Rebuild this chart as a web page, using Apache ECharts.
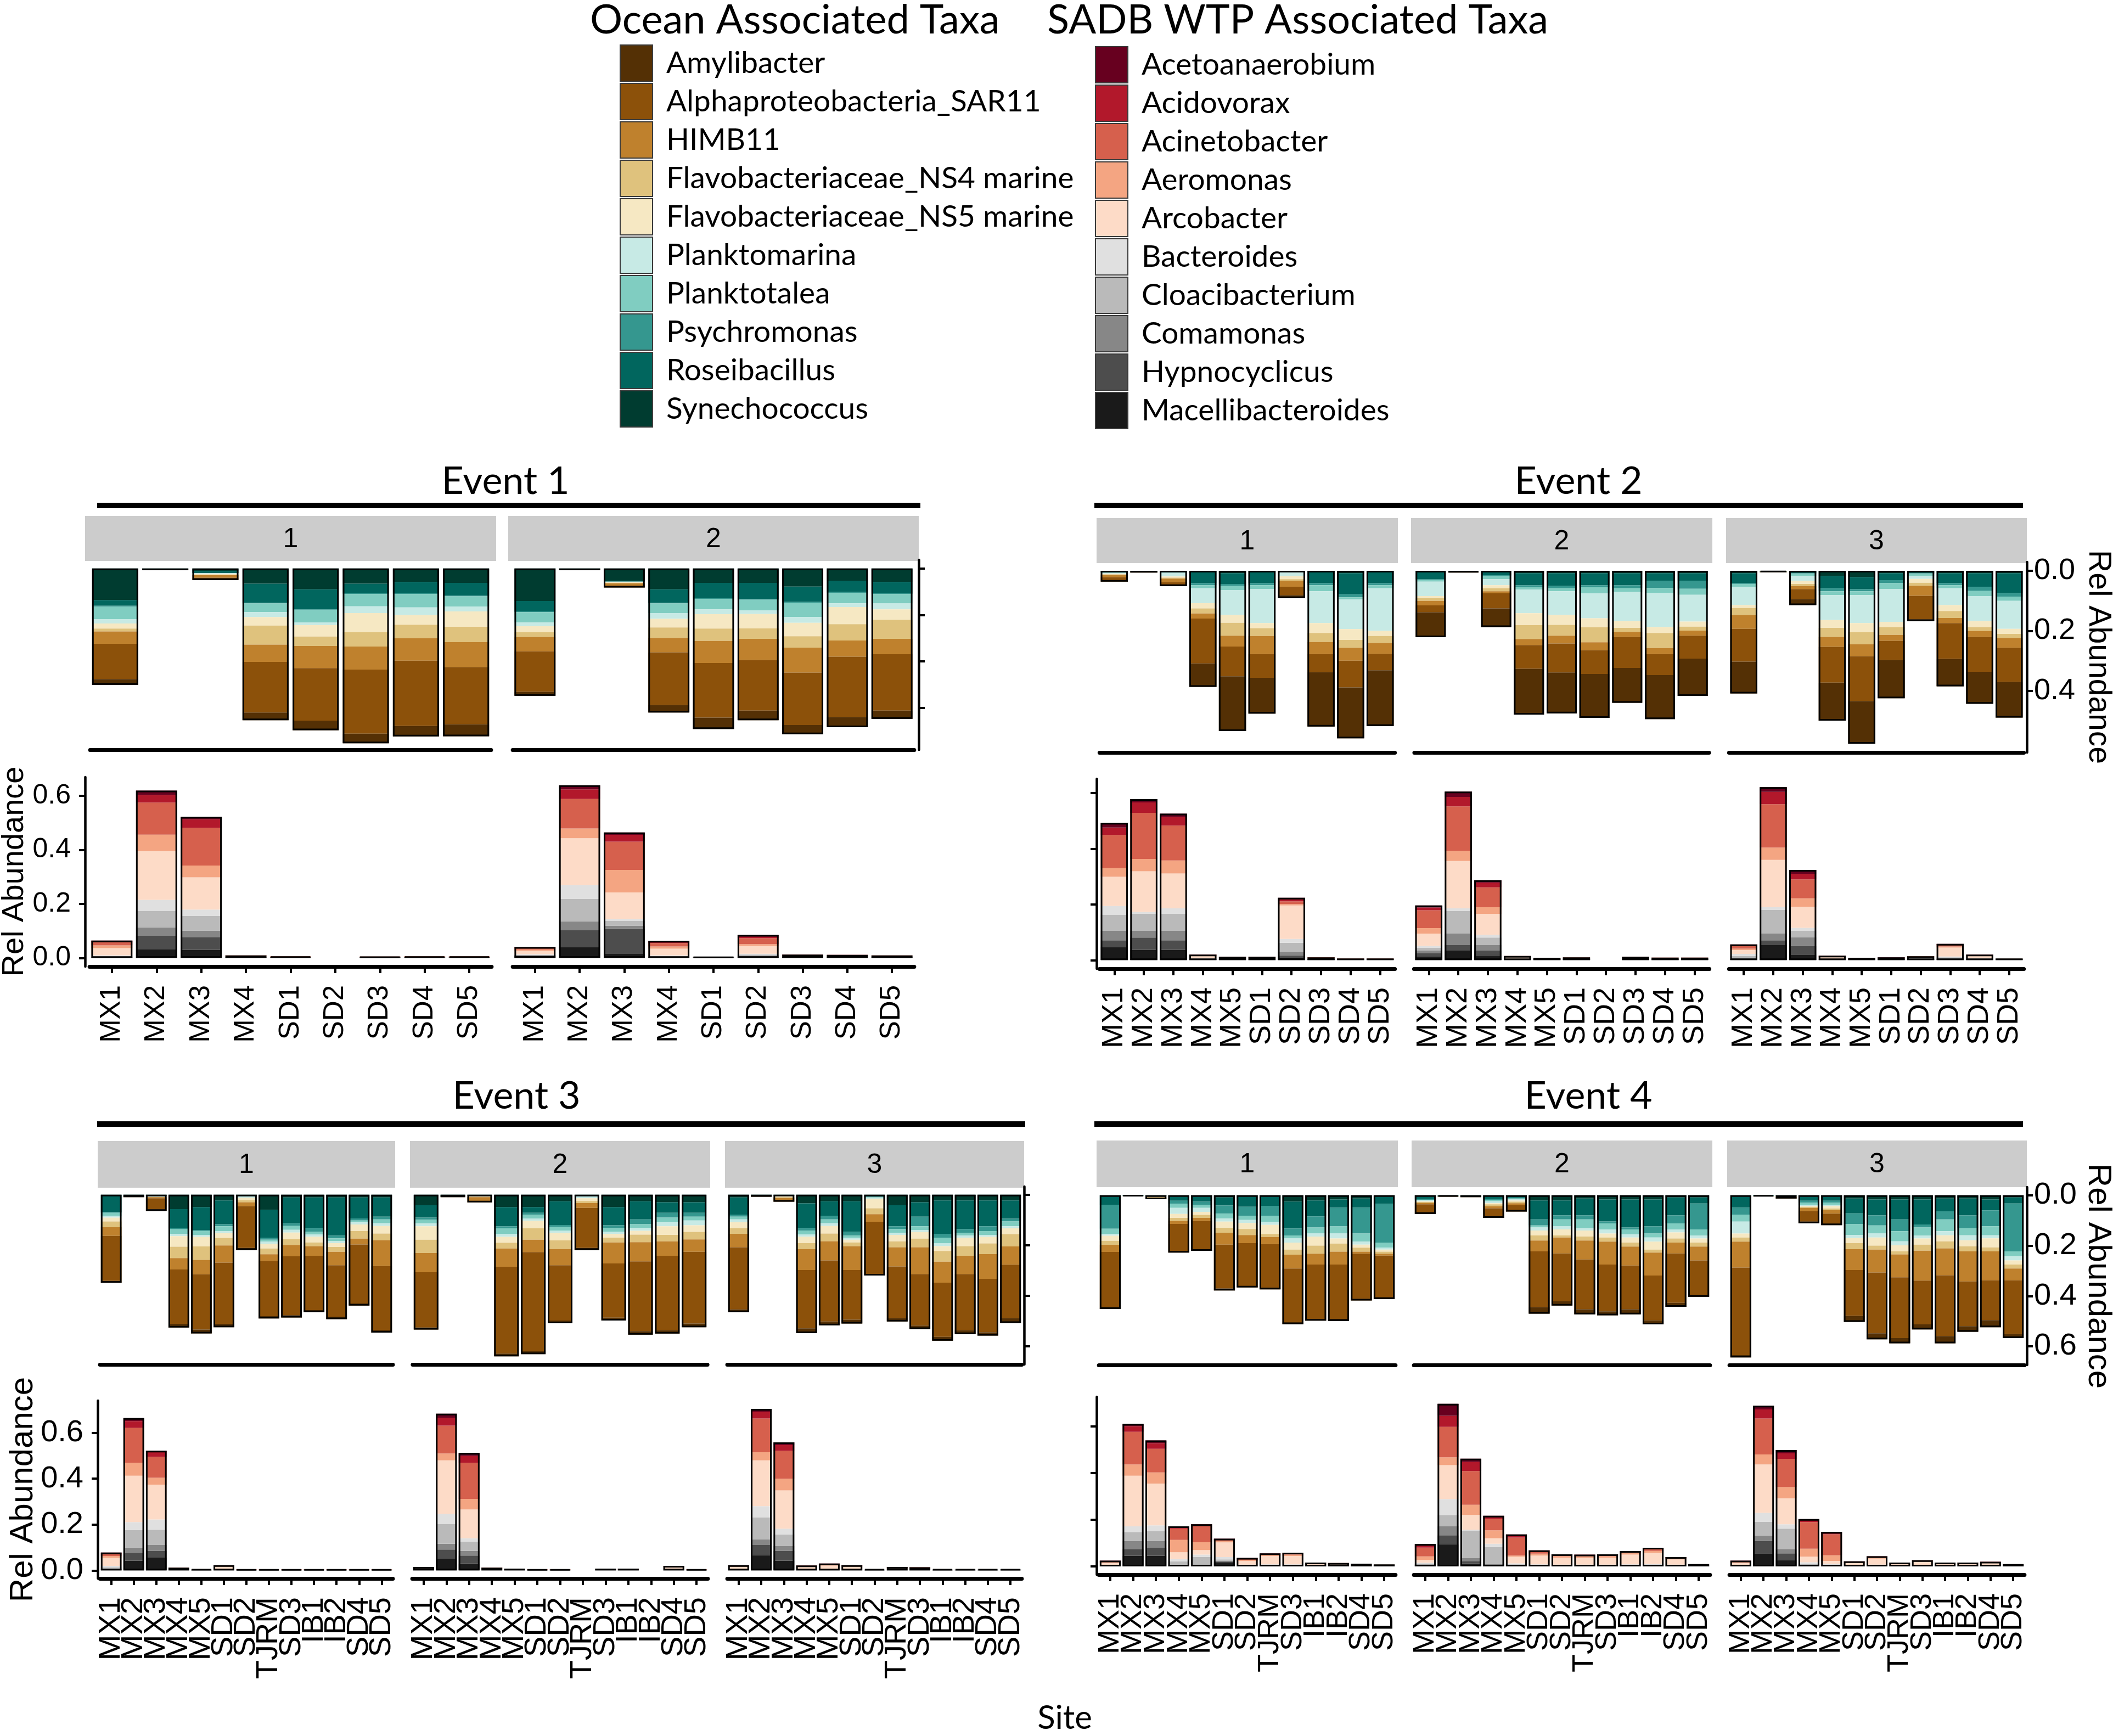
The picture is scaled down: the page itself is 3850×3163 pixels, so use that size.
<!DOCTYPE html>
<html><head><meta charset="utf-8">
<script src="https://cdn.jsdelivr.net/npm/echarts@6/dist/echarts.min.js"></script>
<style>html,body{margin:0;padding:0;background:#fff}#c{width:3850px;height:3163px}</style>
</head><body><div id="c"></div>
<script>
// ---------- taxa (legend order) ----------
const OCEAN_TAXA = ['Amylibacter','Alphaproteobacteria_SAR11','HIMB11','Flavobacteriaceae_NS4 marine','Flavobacteriaceae_NS5 marine','Planktomarina','Planktotalea','Psychromonas','Roseibacillus','Synechococcus'];
const OCEAN_COLORS = ['#543005','#8C510A','#BF812D','#DFC27D','#F6E8C3','#C7EAE5','#80CDC1','#35978F','#01665E','#003C30'];
const WTP_TAXA = ['Acetoanaerobium','Acidovorax','Acinetobacter','Aeromonas','Arcobacter','Bacteroides','Cloacibacterium','Comamonas','Hypnocyclicus','Macellibacteroides'];
const WTP_COLORS = ['#67001F','#B2182B','#D6604D','#F4A582','#FDDBC7','#E0E0E0','#BABABA','#878787','#4D4D4D','#1A1A1A'];

// ---------- sites ----------
const SITES_E1 = ['MX1','MX2','MX3','MX4','SD1','SD2','SD3','SD4','SD5'];
const SITES_E2 = ['MX1','MX2','MX3','MX4','MX5','SD1','SD2','SD3','SD4','SD5'];
const SITES_E34 = ['MX1','MX2','MX3','MX4','MX5','SD1','SD2','TJRM','SD3','IB1','IB2','SD4','SD5'];
const TICKS_3 = [0, 0.2, 0.4];
const TICKS_4 = [0, 0.2, 0.4, 0.6];

// ---------- data ----------
// Ocean rows per site, stack order from 0: Synechococcus, Roseibacillus, Psychromonas, Planktotalea,
// Planktomarina, NS5, NS4, HIMB11, SAR11, Amylibacter. null = site not sampled.
// WTP rows per site, stack order from 0: Macellibacteroides, Hypnocyclicus, Comamonas, Cloacibacterium,
// Bacteroides, Arcobacter, Aeromonas, Acinetobacter, Acidovorax, Acetoanaerobium.
const E1_P1_OCEAN = [
 [0.136,0.025,0.004,0.053,0.019,0.022,0.012,0.053,0.152,0.025],
 [0.004,0,0,0,0,0,0,0,0.002,0.002],
 [0.012,0.008,0,0,0.004,0.004,0,0.012,0.008,0.002],
 [0.066,0.082,0.003,0.037,0.021,0.037,0.082,0.074,0.218,0.033],
 [0.090,0.086,0.003,0.053,0.012,0.049,0.041,0.095,0.226,0.041],
 null,
 [0.066,0.041,0.003,0.053,0.029,0.082,0.062,0.099,0.276,0.041],
 [0.058,0.049,0.003,0.058,0.033,0.041,0.058,0.097,0.281,0.045],
 [0.062,0.055,0.003,0.044,0.021,0.066,0.066,0.107,0.247,0.051]];
const E1_P2_OCEAN = [
 [0.140,0.045,0.003,0.045,0.016,0.025,0.021,0.062,0.174,0.017],
 [0.004,0,0,0,0,0,0,0,0.002,0.002],
 [0.053,0.004,0,0,0.002,0.003,0.002,0.010,0.006,0.002],
 [0.090,0.058,0.003,0.041,0.025,0.037,0.045,0.062,0.226,0.033],
 [0.062,0.066,0.003,0.045,0.021,0.062,0.053,0.095,0.235,0.049],
 [0.062,0.070,0.003,0.045,0.016,0.062,0.045,0.091,0.218,0.041],
 [0.078,0.066,0.003,0.062,0.025,0.058,0.049,0.107,0.226,0.039],
 [0.053,0.049,0.003,0.045,0.016,0.074,0.070,0.070,0.259,0.044],
 [0.058,0.049,0.003,0.041,0.025,0.045,0.082,0.066,0.243,0.035]];
const E1_P1_WTP = [
 [0.001,0.001,0.001,0.002,0.004,0.027,0.010,0.012,0.004,0.002],
 [0.031,0.051,0.031,0.061,0.041,0.180,0.061,0.119,0.028,0.016],
 [0.030,0.047,0.024,0.054,0.024,0.119,0.044,0.139,0.032,0.009],
 [0.001,0.001,0,0.001,0,0.004,0,0.002,0,0],
 [0.002,0.002,0,0,0,0.001,0,0.001,0,0],
 null,
 [0.002,0.002,0,0,0,0,0,0.001,0,0],
 [0.002,0.002,0,0,0,0.001,0,0.001,0,0],
 [0.002,0.002,0,0,0,0.001,0,0.001,0,0]];
const E1_P2_WTP = [
 [0.007,0.002,0.001,0.001,0.002,0.013,0.005,0.006,0.002,0.001],
 [0.040,0.062,0.033,0.083,0.051,0.174,0.036,0.109,0.036,0.015],
 [0.0145,0.094,0.011,0.018,0.007,0.098,0.083,0.105,0.025,0.009],
 [0.002,0.001,0.001,0.002,0.003,0.025,0.008,0.013,0.005,0.003],
 [0.002,0.002,0,0,0,0,0,0,0,0],
 [0.003,0.003,0.002,0.004,0.003,0.029,0.007,0.022,0.008,0.004],
 [0.002,0.002,0.001,0.001,0,0.003,0,0.002,0.001,0],
 [0.002,0.002,0.001,0.001,0,0.003,0,0.001,0.001,0],
 [0.002,0.002,0.001,0.001,0,0.002,0,0.001,0,0]];

const E2_P1_OCEAN = [
 [0.002,0.003,0.001,0.002,0.002,0.002,0.002,0.007,0.012,0.003],
 [0.002,0.001,0,0,0,0,0,0.001,0.001,0.001],
 [0.001,0.002,0.001,0.003,0.012,0.004,0.003,0.012,0.010,0.003],
 [0.005,0.036,0.007,0.010,0.050,0.017,0.017,0.017,0.149,0.078],
 [0.008,0.036,0.007,0.013,0.083,0.026,0.043,0.036,0.099,0.182],
 [0.005,0.036,0.007,0.013,0.113,0.017,0.026,0.060,0.079,0.119],
 [0.001,0.002,0.001,0.002,0.012,0.010,0.005,0.020,0.028,0.010],
 [0.005,0.036,0.007,0.020,0.106,0.033,0.030,0.040,0.060,0.181],
 [0.008,0.070,0.010,0.007,0.099,0.036,0.026,0.043,0.089,0.169],
 [0.005,0.036,0.007,0.010,0.142,0.017,0.023,0.036,0.055,0.185]];
const E2_P2_OCEAN = [
 [0.005,0.023,0.003,0.005,0.048,0.007,0.009,0.015,0.023,0.083],
 [0.002,0.001,0,0,0,0,0,0.001,0.001,0.001],
 [0.005,0.010,0.003,0.010,0.020,0.010,0.010,0.007,0.050,0.062],
 [0.008,0.040,0.007,0.007,0.079,0.040,0.046,0.020,0.079,0.152],
 [0.008,0.043,0.007,0.010,0.079,0.033,0.036,0.026,0.096,0.136],
 [0.008,0.040,0.007,0.020,0.083,0.030,0.050,0.026,0.079,0.146],
 null,
 [0.008,0.040,0.010,0.013,0.096,0.023,0.013,0.017,0.103,0.116],
 [0.008,0.026,0.023,0.017,0.113,0.020,0.050,0.020,0.070,0.146],
 [0.008,0.026,0.026,0.020,0.089,0.017,0.013,0.017,0.076,0.124]];
const E2_P3_OCEAN = [
 [0.008,0.033,0.003,0.010,0.060,0.010,0.023,0.046,0.109,0.106],
 [0.002,0.001,0,0,0,0,0,0,0.001,0.001],
 [0.003,0.005,0.002,0.007,0.017,0.010,0.007,0.010,0.033,0.020],
 [0.018,0.040,0.010,0.013,0.083,0.026,0.030,0.033,0.119,0.126],
 [0.021,0.040,0.007,0.013,0.093,0.030,0.040,0.040,0.149,0.142],
 [0.008,0.023,0.010,0.020,0.109,0.017,0.026,0.020,0.063,0.128],
 [0.003,0.005,0.002,0.007,0.010,0.013,0.010,0.033,0.079,0.005],
 [0.008,0.033,0.007,0.010,0.056,0.020,0.023,0.017,0.119,0.091],
 [0.008,0.046,0.013,0.017,0.083,0.020,0.013,0.020,0.116,0.106],
 [0.008,0.066,0.013,0.013,0.093,0.017,0.013,0.033,0.113,0.119]];
const E2_P1_WTP = [
 [0.047,0.024,0.034,0.058,0.031,0.105,0.031,0.119,0.027,0.017],
 [0.037,0.044,0.024,0.061,0.007,0.146,0.044,0.166,0.037,0.012],
 [0.037,0.034,0.034,0.061,0.020,0.125,0.047,0.125,0.031,0.012],
 [0.001,0.001,0.001,0.002,0.002,0.008,0.002,0.002,0.001,0],
 [0.001,0,0,0.001,0.001,0.005,0.002,0.002,0,0],
 [0.001,0,0,0.001,0.001,0.005,0.002,0.002,0,0],
 [0.010,0.007,0.014,0.031,0.014,0.120,0.005,0.010,0.010,0.003],
 [0.002,0.002,0,0.001,0.001,0.002,0,0.002,0,0],
 [0.002,0.002,0,0,0,0.001,0,0.001,0,0],
 [0.002,0.002,0,0,0,0.001,0,0.001,0,0]];
const E2_P2_WTP = [
 [0.014,0.010,0.010,0.010,0.007,0.044,0.020,0.064,0.010,0.007],
 [0.034,0.020,0.041,0.081,0.010,0.170,0.037,0.159,0.034,0.019],
 [0.017,0.017,0.020,0.027,0.010,0.075,0.024,0.071,0.017,0.009],
 [0.001,0,0,0.002,0.002,0.006,0.002,0.002,0,0],
 [0.002,0.001,0,0,0,0.002,0,0.002,0,0.001],
 [0.003,0.003,0.001,0,0,0.002,0,0.001,0,0],
 null,
 [0.001,0.001,0.001,0.002,0.001,0.004,0,0.002,0,0],
 [0.001,0.001,0.001,0.001,0.001,0.003,0,0.001,0,0],
 [0.003,0.003,0.001,0,0,0.001,0,0.001,0,0]];
const E2_P3_WTP = [
 [0.003,0.002,0.003,0.007,0.007,0.014,0.005,0.010,0.004,0.001],
 [0.054,0.017,0.024,0.085,0.010,0.170,0.044,0.156,0.044,0.017],
 [0.020,0.031,0.031,0.024,0.010,0.075,0.031,0.068,0.020,0.014],
 [0.001,0,0,0.001,0.002,0.007,0.002,0.002,0.001,0],
 [0.002,0.001,0,0,0,0.002,0,0.002,0.001,0],
 [0.002,0.001,0,0,0,0.002,0,0.003,0.001,0.001],
 [0.002,0.001,0.001,0.002,0.001,0.005,0.001,0.001,0,0],
 [0.002,0.002,0.002,0.004,0.003,0.032,0.004,0.005,0.003,0.001],
 [0.001,0.001,0.001,0.002,0.002,0.009,0.002,0.001,0.001,0],
 [0.002,0.002,0.001,0,0,0.001,0,0,0,0]];

const E3_P1_OCEAN = [
 [0.004,0.064,0.004,0.011,0.008,0.015,0.023,0.034,0.178,0.008],
 [0.003,0.003,0,0,0,0,0,0,0.003,0.001],
 [0.002,0.003,0.001,0.001,0.001,0.001,0.001,0.004,0.044,0.006],
 [0.057,0.076,0.004,0.019,0.008,0.042,0.045,0.045,0.215,0.015],
 [0.049,0.091,0.004,0.015,0.008,0.038,0.053,0.057,0.219,0.015],
 [0.023,0.094,0.008,0.019,0.008,0.019,0.030,0.068,0.242,0.014],
 [0.002,0.003,0.001,0.002,0.004,0.010,0.008,0.015,0.166,0.008],
 [0.060,0.110,0.008,0.008,0.008,0.019,0.023,0.026,0.219,0.009],
 [0.011,0.102,0.011,0.015,0.011,0.026,0.023,0.045,0.233,0.009],
 [0.011,0.121,0.015,0.011,0.008,0.023,0.015,0.038,0.215,0.008],
 [0.011,0.151,0.011,0.011,0.008,0.015,0.019,0.053,0.204,0.010],
 [0.011,0.083,0.008,0.008,0.008,0.026,0.030,0.023,0.234,0.008],
 [0.011,0.076,0.011,0.015,0.011,0.030,0.026,0.102,0.253,0.011]];
const E3_P2_OCEAN = [
 [0.042,0.049,0.008,0.015,0.011,0.053,0.053,0.076,0.219,0.008],
 [0.003,0.003,0,0,0,0,0,0,0.003,0.001],
 [0.002,0.002,0,0,0.001,0.003,0.002,0.015,0.0035,0.002],
 [0.049,0.076,0.008,0.023,0.011,0.023,0.023,0.072,0.344,0.011],
 [0.049,0.023,0.008,0.015,0.008,0.030,0.045,0.049,0.393,0.011],
 [0.026,0.094,0.008,0.015,0.008,0.030,0.034,0.064,0.219,0.011],
 [0.002,0.003,0.001,0.002,0.006,0.011,0.008,0.019,0.159,0.008],
 null,
 [0.049,0.072,0.011,0.015,0.008,0.015,0.019,0.083,0.215,0.011],
 [0.026,0.072,0.019,0.015,0.011,0.015,0.030,0.076,0.276,0.014],
 null,
 [0.030,0.042,0.019,0.019,0.015,0.034,0.026,0.057,0.295,0.013],
 [0.030,0.042,0.015,0.015,0.019,0.026,0.030,0.049,0.284,0.015]];
const E3_P3_OCEAN = [
 [0.011,0.068,0.008,0.011,0.011,0.023,0.023,0.053,0.246,0.011],
 [0.003,0.002,0,0,0,0,0,0,0.002,0.001],
 [0.002,0.002,0,0,0.002,0.004,0.003,0.010,0.003,0.002],
 [0.034,0.098,0.011,0.015,0.008,0.026,0.023,0.083,0.231,0.019],
 [0.026,0.057,0.015,0.015,0.011,0.030,0.030,0.076,0.242,0.015],
 [0.026,0.121,0.015,0.008,0.008,0.011,0.015,0.094,0.197,0.015],
 [0.004,0.004,0.002,0.002,0.004,0.038,0.023,0.030,0.207,0.006],
 [0.042,0.083,0.011,0.015,0.008,0.026,0.023,0.076,0.204,0.014],
 [0.030,0.057,0.038,0.015,0.008,0.026,0.034,0.106,0.204,0.014],
 [0.023,0.132,0.015,0.023,0.011,0.019,0.042,0.083,0.215,0.015],
 [0.023,0.113,0.015,0.011,0.008,0.034,0.038,0.072,0.223,0.015],
 [0.023,0.102,0.019,0.015,0.008,0.026,0.042,0.098,0.212,0.013],
 [0.023,0.072,0.011,0.019,0.008,0.023,0.049,0.072,0.212,0.019]];
const E3_P1_WTP = [
 [0.003,0.002,0.002,0.006,0.007,0.035,0.008,0.007,0.005,0.003],
 [0.043,0.034,0.023,0.076,0.035,0.202,0.056,0.152,0.030,0.013],
 [0.056,0.030,0.025,0.066,0.045,0.152,0.030,0.091,0.020,0.007],
 [0.001,0,0,0.001,0.002,0.005,0.001,0.002,0,0],
 [0.001,0.001,0.001,0.002,0,0.001,0,0,0,0],
 [0.001,0,0,0.001,0.002,0.012,0.003,0.003,0.001,0],
 [0.002,0.002,0,0,0,0,0,0.001,0,0],
 [0.002,0.001,0,0,0,0.001,0,0.001,0,0],
 [0.002,0.002,0,0,0,0,0,0.001,0,0],
 [0.002,0.002,0,0,0,0,0,0.001,0,0],
 [0.002,0.002,0,0,0,0,0,0.001,0,0],
 [0.002,0.002,0,0,0,0,0,0.001,0,0],
 [0.002,0.002,0,0,0,0,0,0.001,0,0]];
const E3_P2_WTP = [
 [0.002,0.001,0.001,0.001,0.001,0.004,0.002,0.002,0.001,0],
 [0.051,0.040,0.025,0.086,0.045,0.233,0.030,0.121,0.035,0.017],
 [0.030,0.035,0.020,0.040,0.015,0.126,0.046,0.157,0.030,0.013],
 [0.001,0,0,0.001,0.002,0.005,0.001,0.002,0,0],
 [0.002,0.001,0,0,0,0.002,0,0.002,0.001,0],
 [0.002,0.002,0,0,0,0,0,0.001,0,0],
 [0.002,0.002,0,0,0,0,0,0.001,0,0],
 null,
 [0.001,0.001,0.002,0.002,0.001,0.001,0,0,0,0],
 [0.002,0.001,0,0,0,0,0,0.002,0.002,0.001],
 null,
 [0.001,0.001,0,0.001,0.002,0.010,0.002,0.002,0.001,0],
 [0.002,0.002,0,0,0,0,0,0.001,0,0]];
const E3_P3_WTP = [
 [0.002,0.001,0.001,0.001,0.002,0.008,0.002,0.003,0.002,0.001],
 [0.066,0.045,0.025,0.096,0.048,0.200,0.035,0.147,0.030,0.012],
 [0.043,0.043,0.020,0.051,0.025,0.167,0.051,0.121,0.025,0.012],
 [0.001,0,0,0.001,0.002,0.011,0.003,0.003,0.001,0],
 [0.001,0.001,0,0.001,0.002,0.016,0.004,0.003,0.001,0.001],
 [0.001,0,0,0.001,0.002,0.012,0.003,0.003,0.001,0],
 [0.001,0.001,0.001,0.002,0.001,0.001,0,0,0,0],
 [0.001,0,0,0.001,0.001,0.008,0.002,0.002,0,0],
 [0.001,0,0,0.001,0.001,0.007,0.002,0.002,0,0],
 [0.001,0.001,0.001,0.002,0.001,0.001,0,0,0,0],
 [0.001,0.001,0.001,0.002,0.001,0.001,0,0,0,0],
 [0.001,0.001,0.001,0.002,0.001,0.001,0,0,0,0],
 [0.002,0.002,0.001,0.001,0,0,0,0,0,0]];

const E4_P1_OCEAN = [
 [0.006,0.032,0.095,0.020,0.008,0.020,0.016,0.028,0.221,0.006],
 [0.002,0.001,0,0,0,0,0,0,0.001,0],
 [0.001,0.002,0.001,0,0.001,0.002,0.002,0.003,0.003,0.001],
 [0.006,0.016,0.012,0.016,0.024,0.016,0.012,0.012,0.109,0.005],
 [0.006,0.020,0.012,0.012,0.016,0.012,0.012,0.012,0.115,0.004],
 [0.009,0.032,0.032,0.020,0.012,0.024,0.020,0.047,0.174,0.008],
 [0.006,0.040,0.036,0.016,0.012,0.024,0.024,0.032,0.170,0.006],
 [0.006,0.036,0.040,0.024,0.012,0.036,0.012,0.028,0.174,0.006],
 [0.025,0.107,0.028,0.012,0.016,0.028,0.020,0.055,0.213,0.008],
 [0.021,0.063,0.044,0.024,0.012,0.036,0.032,0.043,0.217,0.006],
 [0.017,0.032,0.075,0.028,0.020,0.020,0.032,0.051,0.216,0.008],
 [0.013,0.036,0.103,0.032,0.012,0.012,0.016,0.008,0.180,0.006],
 [0.006,0.028,0.154,0.020,0.008,0.008,0.008,0.008,0.166,0.006]];
const E4_P2_OCEAN = [
 [0.006,0.008,0.004,0.002,0.004,0.003,0.003,0.006,0.033,0.005],
 [0.002,0.002,0,0,0,0,0,0,0.001,0.001],
 [0.002,0.002,0,0,0,0,0,0.001,0.002,0.001],
 [0.006,0.008,0.004,0.006,0.008,0.004,0.008,0.008,0.033,0.005],
 [0.004,0.006,0.003,0.004,0.004,0.005,0.006,0.008,0.022,0.003],
 [0.021,0.075,0.024,0.008,0.012,0.020,0.020,0.043,0.221,0.026],
 [0.021,0.059,0.016,0.028,0.012,0.024,0.008,0.063,0.190,0.017],
 [0.013,0.067,0.016,0.036,0.008,0.024,0.016,0.075,0.198,0.020],
 [0.017,0.087,0.008,0.024,0.016,0.016,0.016,0.091,0.186,0.016],
 [0.017,0.111,0.008,0.020,0.012,0.020,0.016,0.075,0.174,0.020],
 [0.017,0.107,0.028,0.016,0.016,0.032,0.012,0.091,0.178,0.016],
 [0.009,0.071,0.032,0.024,0.012,0.024,0.016,0.043,0.196,0.016],
 [0.009,0.024,0.103,0.024,0.012,0.016,0.016,0.055,0.138,0.006]];
const E4_P3_OCEAN = [
 [0.006,0.043,0.028,0.028,0.047,0.016,0.016,0.103,0.348,0.009],
 [0.002,0.001,0,0,0,0,0,0,0.001,0.001],
 [0.001,0.001,0,0,0.001,0.002,0.001,0.003,0.003,0.001],
 [0.006,0.016,0.008,0.008,0.004,0.004,0.004,0.012,0.043,0.006],
 [0.006,0.016,0.008,0.008,0.005,0.010,0.006,0.014,0.041,0.005],
 [0.013,0.059,0.043,0.043,0.012,0.020,0.024,0.083,0.182,0.024],
 [0.017,0.063,0.040,0.032,0.016,0.032,0.016,0.091,0.241,0.024],
 [0.017,0.079,0.047,0.040,0.016,0.024,0.012,0.091,0.241,0.021],
 [0.017,0.099,0.012,0.032,0.012,0.024,0.024,0.119,0.174,0.020],
 [0.013,0.051,0.032,0.047,0.016,0.024,0.028,0.107,0.241,0.029],
 [0.013,0.067,0.051,0.028,0.020,0.024,0.020,0.119,0.178,0.022],
 [0.017,0.043,0.063,0.036,0.012,0.036,0.016,0.115,0.158,0.028],
 [0.009,0.024,0.190,0.020,0.016,0.016,0.016,0.047,0.213,0.016]];
const E4_P1_WTP = [
 [0.001,0.001,0.001,0.001,0.002,0.009,0.003,0.004,0.002,0.001],
 [0.046,0.029,0.034,0.039,0.024,0.217,0.048,0.140,0.024,0.010],
 [0.046,0.034,0.029,0.043,0.024,0.179,0.048,0.101,0.024,0.012],
 [0.003,0.002,0.003,0.014,0.010,0.029,0.053,0.048,0.007,0.003],
 [0.002,0.002,0.003,0.034,0.010,0.019,0.034,0.068,0.006,0.003],
 [0.017,0.004,0.004,0.005,0.010,0.063,0.006,0.006,0.003,0.001],
 [0.001,0.001,0.001,0.002,0.003,0.015,0.005,0.006,0.002,0.001],
 [0.001,0.001,0.001,0.002,0.004,0.036,0.006,0.003,0.001,0.001],
 [0.001,0.001,0.001,0.002,0.004,0.036,0.006,0.005,0.002,0.001],
 [0.001,0.001,0.001,0.002,0.002,0.006,0.002,0.001,0.001,0],
 [0.001,0.001,0.001,0.002,0.002,0.005,0.002,0.001,0,0],
 [0.001,0.001,0.001,0.002,0.002,0.003,0.001,0.001,0,0],
 [0.002,0.002,0.001,0.002,0.001,0.001,0,0,0,0]];
const E4_P2_WTP = [
 [0.005,0.002,0.002,0.003,0.004,0.012,0.015,0.038,0.012,0.003],
 [0.095,0.039,0.039,0.048,0.068,0.145,0.034,0.130,0.048,0.051],
 [0.013,0.010,0.014,0.116,0.005,0.063,0.043,0.145,0.039,0.014],
 [0.003,0.003,0.005,0.072,0.014,0.024,0.034,0.050,0.008,0.004],
 [0.002,0.002,0.002,0.003,0.004,0.029,0.005,0.077,0.009,0.004],
 [0.001,0.001,0.001,0.002,0.004,0.038,0.008,0.010,0.003,0.001],
 [0.001,0.001,0.001,0.002,0.003,0.030,0.006,0.005,0.002,0.001],
 [0.001,0.001,0.001,0.002,0.003,0.029,0.006,0.005,0.002,0.001],
 [0.001,0.001,0.001,0.002,0.003,0.030,0.006,0.005,0.002,0.001],
 [0.001,0.001,0.001,0.002,0.004,0.042,0.007,0.005,0.002,0.001],
 [0.001,0.001,0.001,0.003,0.005,0.048,0.008,0.008,0.004,0.001],
 [0.001,0.001,0.001,0.002,0.003,0.022,0.004,0.004,0.001,0.001],
 [0.002,0.002,0.002,0.002,0.001,0.001,0,0,0,0]];
const E4_P3_WTP = [
 [0.001,0.001,0.001,0.001,0.002,0.009,0.003,0.004,0.002,0.001],
 [0.056,0.053,0.024,0.058,0.039,0.207,0.043,0.154,0.039,0.016],
 [0.027,0.029,0.019,0.087,0.019,0.111,0.048,0.121,0.024,0.014],
 [0.002,0.002,0.002,0.004,0.008,0.024,0.034,0.114,0.009,0.004],
 [0.002,0.001,0.002,0.003,0.004,0.012,0.024,0.090,0.007,0.003],
 [0.001,0.001,0.001,0.001,0.002,0.009,0.002,0.003,0.001,0.001],
 [0.001,0.001,0.001,0.002,0.003,0.026,0.004,0.004,0.001,0.001],
 [0.001,0.001,0.001,0.001,0.002,0.007,0.002,0.001,0.001,0],
 [0.001,0.001,0.001,0.002,0.002,0.013,0.003,0.003,0.001,0],
 [0.001,0.001,0.001,0.001,0.002,0.007,0.002,0.001,0.001,0],
 [0.001,0.001,0.001,0.001,0.002,0.007,0.002,0.001,0.001,0],
 [0.001,0.001,0.001,0.002,0.002,0.009,0.002,0.001,0.001,0],
 [0.002,0.002,0.002,0.002,0.001,0.001,0,0,0,0]];

// ---------- layout (pixels) ----------
const LAYOUT = [
 {title:'Event 1', tx:921, ty:877, line:[177,1677,921], strip:[940,82],
  subs:[[155,904],[926,1674]],
  top:{y0:1020,y1:1366,lo:-0.037,hi:0.78,ticks:TICKS_4,labels:false},
  bot:{y0:1416,y1:1761,lo:-0.032,hi:0.669,ticks:TICKS_4,labels:true},
  rel:{x:27,y:1588,fs:56,rot:1}, xfs:51, yfs:50,
  sites:SITES_E1, ocean:[E1_P1_OCEAN,E1_P2_OCEAN], wtp:[E1_P1_WTP,E1_P2_WTP]},
 {title:'Event 2', tx:2876, ty:877, line:[1994,3686,921], strip:[944,82],
  subs:[[1998,2547],[2571,3120],[3145,3693]],
  top:{y0:1024,y1:1371,lo:-0.029,hi:0.604,ticks:TICKS_3,labels:true},
  bot:{y0:1419,y1:1765,lo:-0.031,hi:0.651,ticks:TICKS_4,labels:false},
  rel:{x:3823,y:1197,fs:57,rot:-1}, xfs:54, yfs:54,
  sites:SITES_E2, ocean:[E2_P1_OCEAN,E2_P2_OCEAN,E2_P3_OCEAN], wtp:[E2_P1_WTP,E2_P2_WTP,E2_P3_WTP]},
 {title:'Event 3', tx:941, ty:1997, line:[177,1868,2048], strip:[2079,85],
  subs:[[178,720],[747,1294],[1321,1866]],
  top:{y0:2162,y1:2486,lo:-0.032,hi:0.672,ticks:TICKS_4,labels:false},
  bot:{y0:2552,y1:2876,lo:-0.035,hi:0.74,ticks:TICKS_4,labels:true},
  rel:{x:42,y:2714,fs:60,rot:1}, xfs:56, yfs:56,
  sites:SITES_E34, ocean:[E3_P1_OCEAN,E3_P2_OCEAN,E3_P3_OCEAN], wtp:[E3_P1_WTP,E3_P2_WTP,E3_P3_WTP]},
 {title:'Event 4', tx:2894, ty:1997, line:[1994,3686,2048], strip:[2078,85],
  subs:[[1998,2547],[2572,3120],[3147,3693]],
  top:{y0:2163,y1:2487,lo:-0.032,hi:0.674,ticks:TICKS_4,labels:true},
  bot:{y0:2545,y1:2869,lo:-0.035,hi:0.727,ticks:TICKS_4,labels:false},
  rel:{x:3823,y:2325,fs:60,rot:-1}, xfs:54, yfs:56,
  sites:SITES_E34, ocean:[E4_P1_OCEAN,E4_P2_OCEAN,E4_P3_OCEAN], wtp:[E4_P1_WTP,E4_P2_WTP,E4_P3_WTP]}
];

const FONT_AX = "'Liberation Sans', Arial, sans-serif";
const FONT_T = "Lato, 'Open Sans', sans-serif";
const grids = [], xAxes = [], yAxes = [], series = [], graphics = [];

function addPanel(ev, p, isTop) {
  const [sx0, sx1] = ev.subs[p];
  const rowsAll = isTop ? ev.ocean[p] : ev.wtp[p];
  let cats = [], rows = [];
  if (isTop) {
    ev.sites.forEach((s, i) => { if (rowsAll[i]) { cats.push(s); rows.push(rowsAll[i]); } });
  } else { cats = ev.sites.slice(); rows = rowsAll; }
  const n = cats.length;
  const u = (sx1 - sx0) / (n + 0.2);
  const inset = 0.1 * u;
  const cfg = isTop ? ev.top : ev.bot;
  const gi = grids.length;
  grids.push({left: sx0 + inset, width: (sx1 - sx0) - 2 * inset, top: cfg.y0, height: cfg.y1 - cfg.y0,
              containLabel: false, outerBoundsMode: 'none'});
  const first = p === 0, last = p === ev.subs.length - 1;
  xAxes.push({type: 'category', gridIndex: gi, data: cats, position: 'bottom', boundaryGap: true,
    axisLine: {show: true, onZero: false, lineStyle: {color: '#000', width: 7}},
    axisTick: isTop ? {show: false} : {show: true, alignWithLabel: true, length: 12, lineStyle: {color: '#000', width: 4}},
    axisLabel: isTop ? {show: false} : {show: true, interval: 0, rotate: 90, fontSize: ev.xfs, fontFamily: FONT_AX,
                 color: '#000', margin: 34, hideOverlap: false},
    splitLine: {show: false}});
  yAxes.push({type: 'value', gridIndex: gi, min: cfg.lo, max: cfg.hi, inverse: isTop,
    position: isTop ? 'right' : 'left', offset: inset, show: isTop ? last : first,
    axisLine: {show: true, lineStyle: {color: '#000', width: 4.5}},
    axisTick: {show: true, length: 11, lineStyle: {color: '#000', width: 4}, customValues: cfg.ticks},
    axisLabel: {show: cfg.labels, customValues: cfg.ticks, formatter: v => Number(v).toFixed(1),
                fontSize: ev.yfs, fontFamily: FONT_AX, color: '#000', margin: isTop ? 13 : 26},
    splitLine: {show: false}});
  const names = isTop ? OCEAN_TAXA : WTP_TAXA, colors = isTop ? OCEAN_COLORS : WTP_COLORS;
  for (let i = 0; i < 10; i++) {
    series.push({type: 'bar', name: names[9 - i], xAxisIndex: gi, yAxisIndex: gi, stack: 'g' + gi,
      data: rows.map(r => r ? r[i] : null), itemStyle: {color: colors[9 - i]},
      barCategoryGap: '8%', barGap: '-100%', silent: true});
  }
  series.push({type: 'bar', name: 'total', xAxisIndex: gi, yAxisIndex: gi, z: 5,
    data: rows.map(r => r ? r.reduce((a, b) => a + b, 0) : null),
    itemStyle: {color: 'rgba(0,0,0,0)', borderColor: '#000', borderWidth: 3},
    barCategoryGap: '8%', barGap: '-100%', silent: true});
}

LAYOUT.forEach(ev => {
  ev.subs.forEach((s, p) => { addPanel(ev, p, true); addPanel(ev, p, false); });
  graphics.push({type: 'text', x: ev.tx, y: ev.ty, silent: true,
    style: {text: ev.title, fontSize: 70, fontFamily: FONT_T, fill: '#000', align: 'center', verticalAlign: 'middle'}});
  graphics.push({type: 'line', silent: true, shape: {x1: ev.line[0], y1: ev.line[2], x2: ev.line[1], y2: ev.line[2]},
    style: {stroke: '#000', lineWidth: 10}});
  ev.subs.forEach((s, p) => {
    graphics.push({type: 'rect', silent: true, shape: {x: s[0], y: ev.strip[0], width: s[1] - s[0], height: ev.strip[1]},
      style: {fill: '#CCCCCC'}});
    graphics.push({type: 'text', silent: true, x: (s[0] + s[1]) / 2, y: ev.strip[0] + ev.strip[1] / 2 + 2,
      style: {text: String(p + 1), fontSize: 50, fontFamily: FONT_AX, fill: '#000', align: 'center', verticalAlign: 'middle'}});
  });
  graphics.push({type: 'text', silent: true, x: ev.rel.x, y: ev.rel.y, rotation: ev.rel.rot * Math.PI / 2,
    style: {text: 'Rel Abundance', fontSize: ev.rel.fs, fontFamily: FONT_AX, fill: '#000', align: 'center', verticalAlign: 'middle'}});
});

graphics.push({type: 'text', silent: true, x: 1075, y: 37,
  style: {text: 'Ocean Associated Taxa', fontSize: 74, fontFamily: FONT_T, fill: '#000', align: 'left', verticalAlign: 'middle'}});
graphics.push({type: 'text', silent: true, x: 1908, y: 37,
  style: {text: 'SADB WTP Associated Taxa', fontSize: 74, fontFamily: FONT_T, fill: '#000', align: 'left', verticalAlign: 'middle'}});
graphics.push({type: 'text', silent: true, x: 1940, y: 3131,
  style: {text: 'Site', fontSize: 60, fontFamily: FONT_T, fill: '#000', align: 'center', verticalAlign: 'middle'}});

const legendBase = {orient: 'vertical', itemWidth: 59, itemHeight: 66, itemGap: 2, icon: 'rect', padding: 0,
  selectedMode: false, itemStyle: {borderColor: '#3a3a3a', borderWidth: 2},
  textStyle: {fontSize: 55, lineHeight: 56, fontFamily: FONT_T, color: '#000', padding: [0, 0, 0, 20]}};

const option = {
  animation: false, backgroundColor: '#ffffff',
  textStyle: {fontFamily: FONT_AX},
  legend: [Object.assign({}, legendBase, {data: OCEAN_TAXA, left: 1129, top: 81}),
           Object.assign({}, legendBase, {data: WTP_TAXA, left: 1995, top: 84})],
  grid: grids, xAxis: xAxes, yAxis: yAxes, series: series,
  graphic: {elements: graphics}
};
const chart = echarts.init(document.getElementById('c'), null, {renderer: 'canvas'});
chart.setOption(option);
</script></body></html>
